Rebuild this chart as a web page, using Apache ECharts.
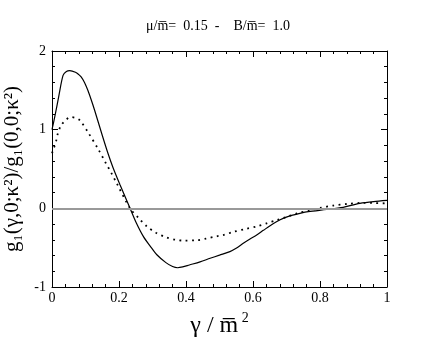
<!DOCTYPE html>
<html>
<head>
<meta charset="utf-8">
<script src="https://cdn.jsdelivr.net/npm/echarts@6/dist/echarts.min.js"></script>
<style>
  html, body { margin: 0; padding: 0; background: #fff; }
  #chart { width: 436px; height: 337px; }
</style>
</head>
<body>
<div id="chart"></div>
<script>
// valeurs
var solidData = [
  [0, 1.0], [0.01, 1.2], [0.02, 1.42], [0.033, 1.69], [0.043, 1.74], [0.053, 1.75],
  [0.07, 1.73], [0.08, 1.70], [0.087, 1.67], [0.097, 1.60], [0.107, 1.50], [0.117, 1.38],
  [0.127, 1.25], [0.147, 0.97], [0.167, 0.70], [0.182, 0.52], [0.203, 0.30], [0.233, 0.0],
  [0.25, -0.17], [0.273, -0.36], [0.293, -0.48], [0.313, -0.59], [0.34, -0.69], [0.36, -0.74],
  [0.375, -0.755], [0.39, -0.745], [0.41, -0.72], [0.442, -0.68], [0.472, -0.635], [0.50, -0.595],
  [0.531, -0.55], [0.551, -0.505], [0.571, -0.445], [0.591, -0.39], [0.611, -0.34], [0.631, -0.28],
  [0.651, -0.22], [0.67, -0.17], [0.69, -0.127], [0.715, -0.09], [0.74, -0.064], [0.765, -0.043],
  [0.82, -0.015], [0.869, 0.013], [0.90, 0.045], [0.919, 0.064], [0.96, 0.085], [1.0, 0.10]
];
var dottedData = [
  [0, 0.70], [0.012, 0.85], [0.018, 0.96], [0.028, 1.06], [0.043, 1.13], [0.056, 1.16],
  [0.07, 1.15], [0.083, 1.12], [0.107, 0.97], [0.137, 0.76], [0.16, 0.58], [0.177, 0.45],
  [0.193, 0.32], [0.233, 0.0], [0.26, -0.13], [0.283, -0.23], [0.31, -0.31], [0.342, -0.37],
  [0.37, -0.40], [0.392, -0.41], [0.432, -0.405], [0.46, -0.385], [0.492, -0.355], [0.511, -0.34],
  [0.541, -0.30], [0.58, -0.26], [0.611, -0.23], [0.641, -0.19], [0.671, -0.15], [0.70, -0.11],
  [0.731, -0.064], [0.77, -0.025], [0.80, 0.005], [0.84, 0.035], [0.88, 0.055], [0.929, 0.07],
  [0.96, 0.068], [1.0, 0.063]
];
var titleText = 'μ/m\u0305=  0.15  -    B/m\u0305=  1.0';

var serif = '"Liberation Serif", "DejaVu Serif", serif';
var chart = echarts.init(document.getElementById('chart'));

function axisBase(show) {
  return {
    axisLine: { show: true, onZero: false, lineStyle: { color: '#000', width: 1 } },
    axisTick: { show: true, inside: true, length: 6, lineStyle: { color: '#000' } },
    minorTick: { show: true, splitNumber: 5, length: 3, lineStyle: { color: '#000' } },
    splitLine: { show: false },
    axisLabel: { show: show, color: '#000', fontFamily: serif, fontSize: 14 }
  };
}

var xBottom = Object.assign(axisBase(true), {
  type: 'value', position: 'bottom', min: 0, max: 1, interval: 0.2,
  name: '{a|γ / m\u0305}{s| 2}', nameLocation: 'middle', nameGap: 24,
  nameTextStyle: {
    rich: {
      a: { fontFamily: serif, fontSize: 24, color: '#000' },
      s: { fontFamily: serif, fontSize: 14, color: '#000', padding: [0, 0, 16, 0] }
    }
  }
});
xBottom.axisLabel.margin = 4;
var xTop = Object.assign(axisBase(false), {
  type: 'value', position: 'top', min: 0, max: 1, interval: 0.2
});
var yLeft = Object.assign(axisBase(true), {
  type: 'value', position: 'left', min: -1, max: 2, interval: 1,
  name: 'g₁(γ,0;κ²)/g₁(0,0;κ²)', nameLocation: 'middle', nameGap: 18,
  nameTextStyle: { fontFamily: serif, fontSize: 21, color: '#000' }
});
yLeft.axisLabel.margin = 6;
var yRight = Object.assign(axisBase(false), {
  type: 'value', position: 'right', min: -1, max: 2, interval: 1
});

chart.setOption({
  animation: false,
  backgroundColor: '#fff',
  title: {
    text: titleText, left: 'center', top: 14,
    textStyle: { fontFamily: serif, fontSize: 14, fontWeight: 'normal', color: '#000' }
  },
  grid: { left: 52, right: 49, top: 51, bottom: 50, outerBoundsMode: 'none' },
  xAxis: [xBottom, xTop],
  yAxis: [yLeft, yRight],
  series: [
    {
      type: 'line', data: solidData, showSymbol: false, smooth: 0.3,
      lineStyle: { color: '#000', width: 1.2 },
      markLine: {
        silent: true, symbol: 'none', label: { show: false },
        lineStyle: { color: '#999', width: 2, type: 'solid' },
        data: [{ yAxis: 0 }]
      },
      z: 3
    },
    {
      type: 'line', data: dottedData, showSymbol: false, smooth: 0.3,
      lineStyle: { color: '#000', width: 1.8, type: [1.8, 4.5] },
      z: 3
    }
  ]
});
</script>
</body>
</html>
